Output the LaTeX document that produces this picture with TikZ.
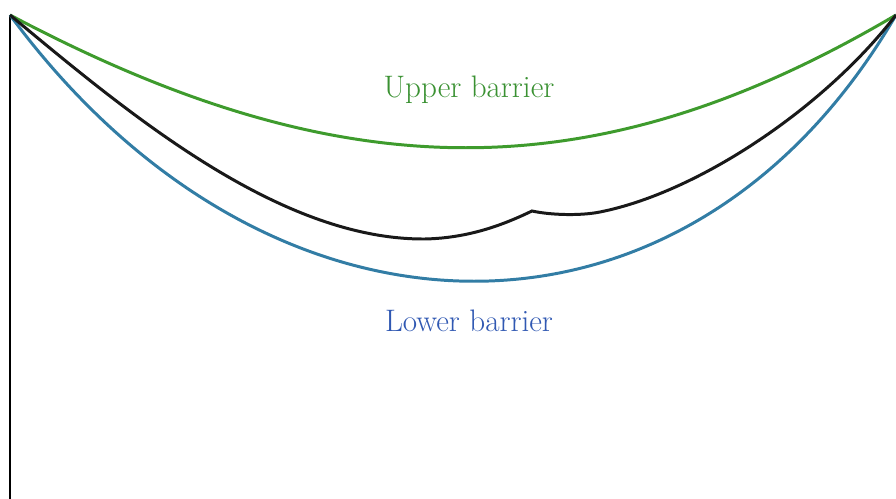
\documentclass[tikz,border=0pt]{standalone}
\usepackage{tikz}
\definecolor{upgreen}{RGB}{62,155,45}
\definecolor{uptext}{RGB}{58,145,50}
\definecolor{lowblue}{RGB}{50,125,165}
\definecolor{lowtext}{RGB}{48,88,178}

\begin{document}
\begin{tikzpicture}[x=0.02cm, y=-0.02cm, barrier/.style={line width=1.7pt}, label/.style={font=\fontsize{17.7}{21}\selectfont}]
  \useasboundingbox (0,0) rectangle (896,499);
  \coordinate (0) at (10,15);
  \coordinate (0_b) at (10,499);
  \coordinate (1) at (896,15);
  \coordinate (min) at (425,239);
  \coordinate (kink) at (532,211);
  \coordinate (flat) at (600,212);
  \draw[line width=1.4pt] (0) -- (0_b);
  \draw[barrier, upgreen] (0) .. controls (344,192) and (596,192) .. (1);
  \draw[barrier, lowblue] (0) .. controls (272,370) and (690,370) .. (1);
  \draw[barrier, black!90] (0) .. controls (130,115) and (280,240) .. (min)
    .. controls (470,238) and (505,224) .. (kink)
    .. controls (550,215) and (580,216) .. (flat)
    .. controls (700,192) and (826,106) .. (1);
  \node[label, text=uptext] (upper) at (469,90) {Upper barrier};
  \node[label, text=lowtext] (lower) at (469,321) {Lower barrier};
\end{tikzpicture}
\end{document}
